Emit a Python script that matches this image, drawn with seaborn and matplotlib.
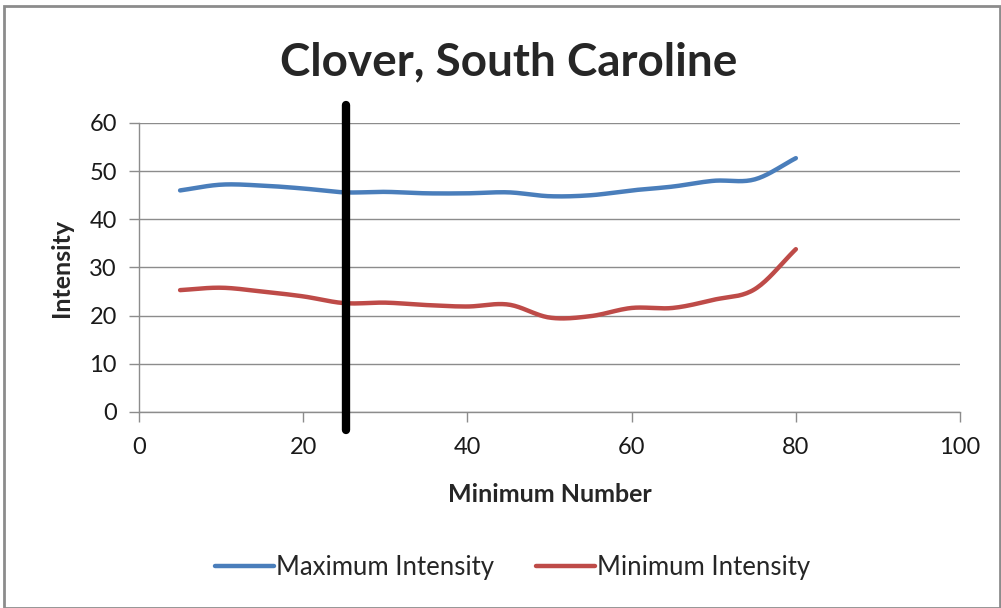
import numpy as np
import pandas as pd
import matplotlib
matplotlib.use("Agg")
import matplotlib.pyplot as plt
import seaborn as sns
from matplotlib.patches import Rectangle

# values
minimum_number = [5, 10, 15, 20, 25, 30, 35, 40, 45, 50, 55, 60, 65, 70, 75, 80]
max_intensity = [46.0, 47.2, 47.0, 46.4, 45.6, 45.7, 45.4, 45.4, 45.6, 44.8, 45.0, 46.0, 46.8, 48.0, 48.3, 52.7]
min_intensity = [25.3, 25.8, 25.0, 24.0, 22.6, 22.7, 22.2, 21.9, 22.3, 19.6, 19.9, 21.6, 21.6, 23.3, 25.5, 33.8]
marker_x = 25.2
title = "Clover, South Caroline"


def smooth(x, y, n=20):
    # Catmull-Rom curve through the points, like Excel's smoothed line
    x = np.asarray(x, float)
    y = np.asarray(y, float)
    px = np.concatenate([[2 * x[0] - x[1]], x, [2 * x[-1] - x[-2]]])
    py = np.concatenate([[2 * y[0] - y[1]], y, [2 * y[-1] - y[-2]]])
    xs, ys = [], []
    t = np.linspace(0, 1, n, endpoint=False)
    for i in range(1, len(px) - 2):
        for p, out in ((px, xs), (py, ys)):
            p0, p1, p2, p3 = p[i - 1], p[i], p[i + 1], p[i + 2]
            out.extend(0.5 * (2 * p1 + (-p0 + p2) * t + (2 * p0 - 5 * p1 + 4 * p2 - p3) * t ** 2
                              + (-p0 + 3 * p1 - 3 * p2 + p3) * t ** 3))
    xs.append(x[-1])
    ys.append(y[-1])
    return np.array(xs), np.array(ys)


frames = []
for name, vals in (("Maximum Intensity", max_intensity), ("Minimum Intensity", min_intensity)):
    sx, sy = smooth(minimum_number, vals)
    frames.append(pd.DataFrame({"x": sx, "y": sy, "series": name}))
df = pd.concat(frames, ignore_index=True)

sns.set_style("white")
plt.rcParams["font.family"] = ["Lato", "DejaVu Sans"]

fig = plt.figure(figsize=(10.01, 6.08), dpi=100)
ax = fig.add_axes([0.1389, 0.3224, 0.8202, 0.4753])

sns.lineplot(data=df, x="x", y="y", hue="series", sort=False, estimator=None,
             palette={"Maximum Intensity": "#4A7EBB", "Minimum Intensity": "#BE4B48"},
             linewidth=3.2, ax=ax, legend=True)

ax.axvline(marker_x, ymin=-0.062, ymax=1.062, color="black", linewidth=6, clip_on=False, zorder=5)

ax.set_xlim(0, 100)
ax.set_ylim(0, 60)
ax.set_xticks(range(0, 101, 20))
ax.set_yticks(range(0, 61, 10))
ax.yaxis.grid(True, color="#8c8c8c", linewidth=1)
ax.xaxis.grid(False)
for s in ("top", "right"):
    ax.spines[s].set_visible(False)
for s in ("left", "bottom"):
    ax.spines[s].set_color("#8c8c8c")
    ax.spines[s].set_linewidth(1)
ax.tick_params(axis="both", which="major", length=7, width=1, color="#8c8c8c",
               labelsize=17, labelcolor="#1a1a1a", direction="out", bottom=True, left=True)
ax.tick_params(axis="x", pad=11)
ax.tick_params(axis="y", pad=9)
ax.set_xlabel("Minimum Number", fontsize=18, fontweight="bold", labelpad=18)
ax.set_ylabel("Intensity", fontsize=18, fontweight="bold", labelpad=12)

fig.text(0.508, 0.898, title, ha="center", va="center", fontsize=33, fontweight="bold")

handles, labels = ax.get_legend_handles_labels()
ax.legend_.remove()
fig.legend(handles, labels, loc="center", bbox_to_anchor=(0.512, 0.067), ncol=2, frameon=False,
           fontsize=18.5, handlelength=2.3, handletextpad=0.1, columnspacing=1.6)

fig.patches.append(Rectangle((0.004, 0.0), 0.995, 0.99, transform=fig.transFigure,
                             fill=False, edgecolor="#8c8c8c", linewidth=2))

fig.savefig("out.png", dpi=100)
